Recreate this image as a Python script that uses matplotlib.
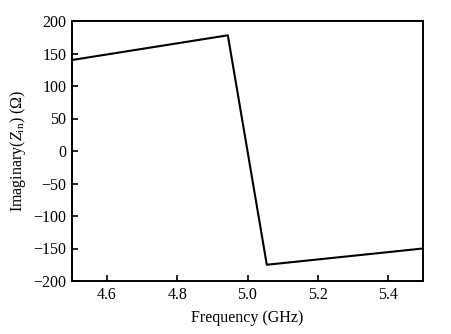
import matplotlib
matplotlib.use("Agg")
import matplotlib.pyplot as plt

freq = [4.5, 4.944, 5.055, 5.5]
imag_z = [140, 178, -175, -150]
xticks = [4.6, 4.8, 5.0, 5.2, 5.4]
yticks = [-200, -150, -100, -50, 0, 50, 100, 150, 200]

plt.rcParams['font.family'] = ['Liberation Serif', 'DejaVu Serif']
plt.rcParams['mathtext.fontset'] = 'custom'
plt.rcParams['mathtext.rm'] = 'Liberation Serif'
plt.rcParams['mathtext.it'] = 'Liberation Serif:italic'

fig = plt.figure(figsize=(4.52, 3.34), dpi=100)
ax = fig.add_axes([72/452, 53/334, 351/452, 260/334])
ax.plot(freq, imag_z, color='black', linewidth=1.5)
ax.set_xlim(4.5, 5.5)
ax.set_ylim(-200, 200)
ax.set_xticks(xticks)
ax.set_xticklabels([f"{v:.1f}" for v in xticks])
ax.set_yticks(yticks)
ax.set_yticklabels([str(v).replace('-', '\u2212') for v in yticks])
ax.tick_params(direction='in', length=4, width=1.2, labelsize=11.5,
               top=False, right=False, pad=4)
for s in ax.spines.values():
    s.set_linewidth(1.4)
ax.set_xlabel('Frequency (GHz)', fontsize=11.5, labelpad=5)
ax.set_ylabel(r'Imaginary($Z_{\mathrm{in}}$) ($\Omega$)', fontsize=11.5, labelpad=4)
fig.savefig('out.png', dpi=100)
